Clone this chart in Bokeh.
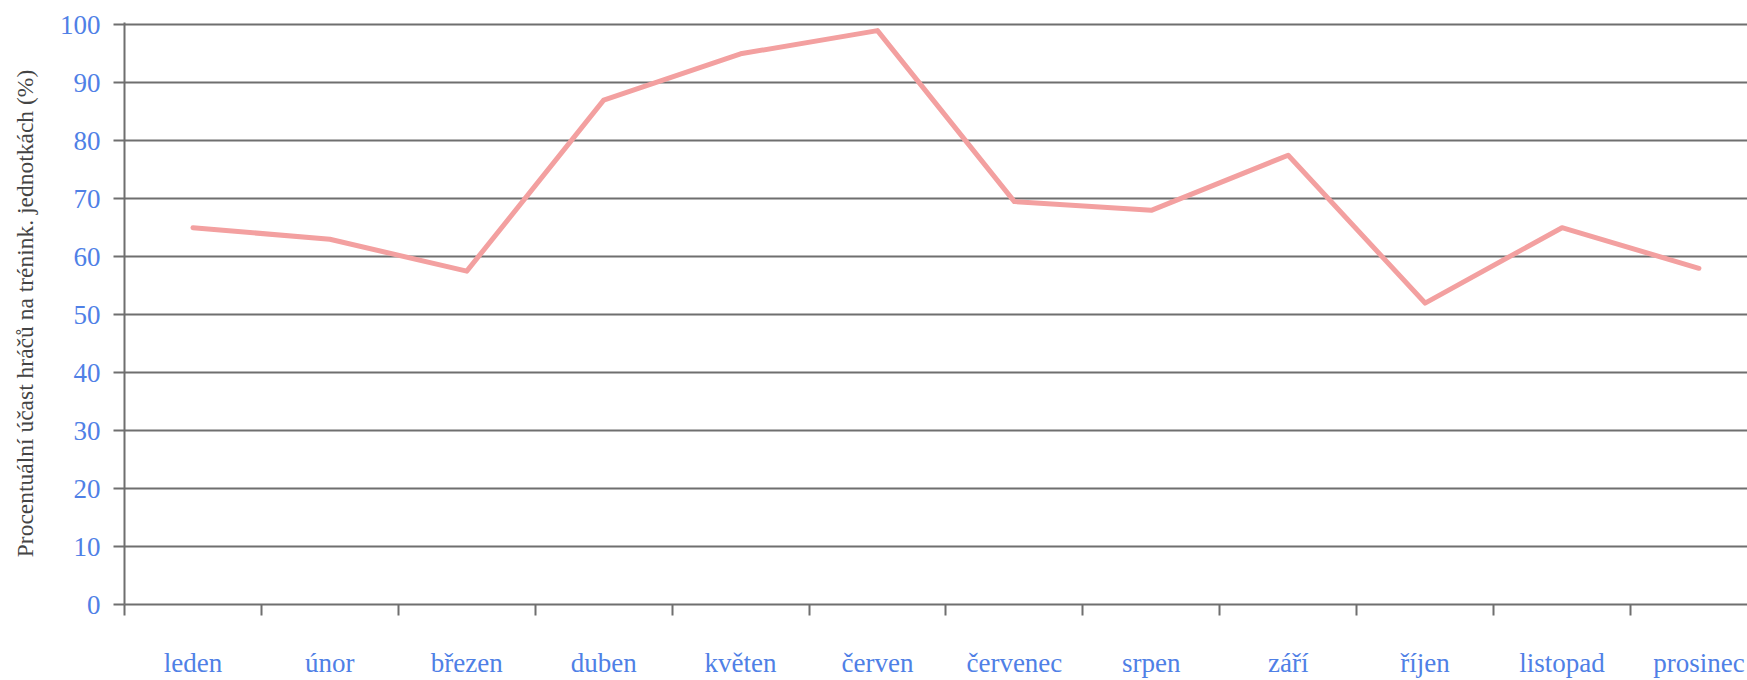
from bokeh.plotting import figure
from bokeh.models import Range1d, FixedTicker, ColumnDataSource
from bokeh.embed import file_html
from bokeh.resources import INLINE

months = ["leden", "únor", "březen", "duben", "květen", "červen",
          "červenec", "srpen", "září", "říjen", "listopad", "prosinec"]
attendance = [65, 63, 57.5, 87, 95, 99, 69.5, 68, 77.5, 52, 65, 58]
y_ticks = [0, 10, 20, 30, 40, 50, 60, 70, 80, 90, 100]
y_title = "Procentuální účast hráčů na trénink. jednotkách (%)"

centers = [i + 0.5 for i in range(len(months))]
bounds = [float(i) for i in range(len(months) + 1)]

src = ColumnDataSource(data=dict(x=centers, y=attendance, m=months))

FONT = "Liberation Serif"
BLUE = "#4f80e6"
GRID = "#6f6f6f"

p = figure(width=1747, height=680, output_backend="svg", toolbar_location=None,
           x_range=Range1d(0, 11.855), y_range=Range1d(0, 100.4),
           min_border_left=124, min_border_right=0, min_border_top=22,
           min_border_bottom=71)
p.outline_line_color = None
p.background_fill_color = "white"
p.border_fill_color = "white"

p.line("x", "y", source=src, line_color="#f3a0a0", line_width=5,
       line_join="round", line_cap="round")

# x axis
xa = p.xaxis[0]
xa.ticker = FixedTicker(ticks=centers, minor_ticks=bounds)
xa.major_label_overrides = {c: m for c, m in zip(centers, months)}
xa.major_tick_out = 0
xa.major_tick_in = 0
xa.minor_tick_out = 11
xa.minor_tick_in = 0
xa.minor_tick_line_color = GRID
xa.minor_tick_line_width = 2
xa.axis_line_color = GRID
xa.axis_line_width = 2
xa.major_label_text_font = FONT
xa.major_label_text_font_size = "27px"
xa.major_label_text_color = BLUE
xa.major_label_standoff = 32

# y axis
ya = p.yaxis[0]
ya.ticker = FixedTicker(ticks=y_ticks)
ya.major_tick_out = 11
ya.major_tick_in = 0
ya.minor_tick_out = 0
ya.minor_tick_in = 0
ya.major_tick_line_color = GRID
ya.major_tick_line_width = 2
ya.axis_line_color = GRID
ya.axis_line_width = 2
ya.major_label_text_font = FONT
ya.major_label_text_font_size = "27px"
ya.major_label_text_color = BLUE
ya.major_label_standoff = 13
ya.axis_label = y_title
ya.axis_label_text_font = FONT
ya.axis_label_text_font_size = "23.5px"
ya.axis_label_text_font_style = "normal"
ya.axis_label_text_color = "#444444"
ya.axis_label_standoff = 19

p.xgrid.grid_line_color = None
p.ygrid.ticker = FixedTicker(ticks=y_ticks)
p.ygrid.grid_line_color = GRID
p.ygrid.grid_line_width = 2

open("out.html", "w").write(file_html(p, INLINE))
